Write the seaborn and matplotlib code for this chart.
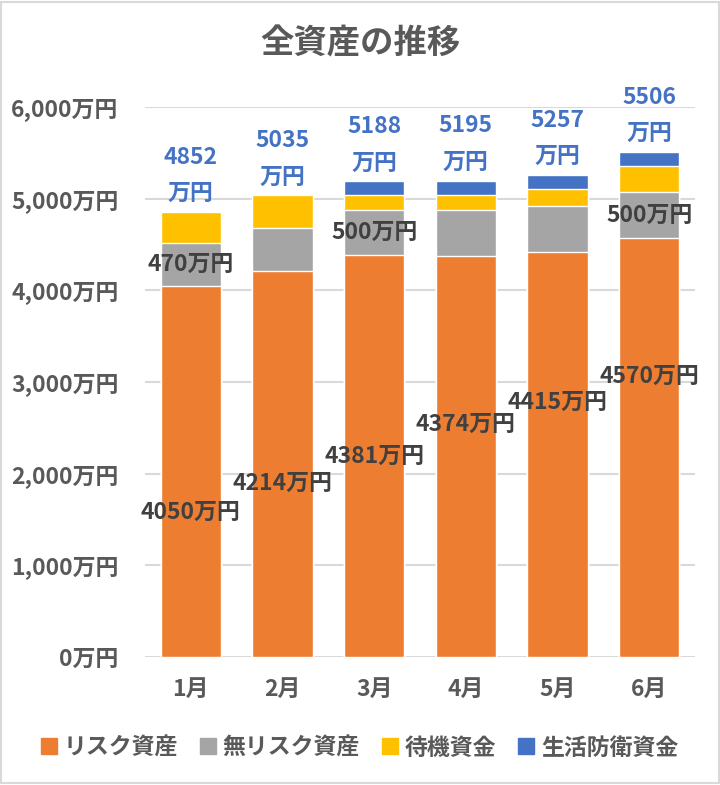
import matplotlib
matplotlib.use("Agg")
import matplotlib.pyplot as plt
from matplotlib.lines import Line2D
from matplotlib.patches import Rectangle
import numpy as np
import pandas as pd
import seaborn as sns

months = ["1月", "2月", "3月", "4月", "5月", "6月"]
risk = [4050, 4214, 4381, 4374, 4415, 4570]
no_risk = [470, 470, 500, 500, 500, 500]
standby = [332, 351, 157, 171, 192, 286]
defense = [0, 0, 150, 150, 150, 150]
series_names = ["リスク資産", "無リスク資産", "待機資金", "生活防衛資金"]
# gray segment labels only appear on these months
no_risk_labelled = ["1月", "3月", "6月"]

colors = ["#ED7D31", "#A5A5A5", "#FFC000", "#4472C4"]
# where the risk labels sit, as share of the orange segment (dragged in the original)
risk_label_frac = [0.39, 0.45, 0.50, 0.58, 0.63, 0.67]

sns.set_theme(style="white")
plt.rcParams["font.family"] = ["Noto Sans CJK JP", "DejaVu Sans"]

df = pd.DataFrame({"month": months, "risk": risk, "no_risk": no_risk,
                   "standby": standby, "defense": defense})
df["c1"] = df["risk"]
df["c2"] = df["c1"] + df["no_risk"]
df["c3"] = df["c2"] + df["standby"]
df["c4"] = df["c3"] + df["defense"]

fig = plt.figure(figsize=(7.2, 7.85), dpi=100)
ax = fig.add_axes([145 / 720, 128 / 785, 550 / 720, 550 / 785])

# stacked bars drawn as overlapping cumulative bars, tallest first
for col, color in zip(["c4", "c3", "c2", "c1"], colors[::-1]):
    sns.barplot(data=df, x="month", y=col, color=color, width=0.66,
                saturation=1, ax=ax, zorder=3)

ax.set_ylim(0, 6000)
ax.set_xlim(-0.5, 5.5)
ax.set_yticks(np.arange(0, 6001, 1000))
ax.set_yticklabels([f"{v:,}万円" for v in range(0, 6001, 1000)])
ax.yaxis.grid(True, color="#D9D9D9", linewidth=1.5, zorder=0)
ax.set_axisbelow(True)
for s in ax.spines.values():
    s.set_visible(False)
ax.set_xlabel("")
ax.set_ylabel("")
ax.tick_params(axis="y", length=0, pad=19, labelsize=16.5, labelcolor="#595959")
ax.tick_params(axis="x", length=0, pad=15, labelsize=16.5, labelcolor="#595959")
for lab in ax.get_xticklabels() + ax.get_yticklabels():
    lab.set_fontweight("bold")

# data labels
for i, m in enumerate(months):
    ax.text(i, df["risk"][i] * risk_label_frac[i], f"{risk[i]}万円",
            ha="center", va="center", fontsize=16.5, fontweight="bold",
            color="#404040", zorder=5)
    if m in no_risk_labelled:
        ax.text(i, df["c1"][i] + no_risk[i] / 2, f"{no_risk[i]}万円",
                ha="center", va="center", fontsize=16.5, fontweight="bold",
                color="#404040", zorder=5)
    ax.annotate(f"{df['c4'][i]}\n万円", xy=(i, df["c4"][i]), xytext=(0, 5),
                textcoords="offset points", ha="center", va="bottom",
                fontsize=16.5, fontweight="bold", color="#4472C4",
                linespacing=1.75, annotation_clip=False, zorder=5)

fig.text(0.5, 1 - 44 / 785, "全資産の推移", ha="center", va="center",
         fontsize=24, fontweight="bold", color="#595959")

handles = [Line2D([], [], marker="s", linestyle="none", markersize=11,
                  markerfacecolor=c, markeredgecolor=c) for c in colors]
fig.legend(handles, series_names, loc="center", bbox_to_anchor=(0.5, 1 - 748 / 785),
           ncol=4, frameon=False, handlelength=0.6, handletextpad=0.35,
           columnspacing=1.0, prop={"size": 16.5, "weight": "bold"},
           labelcolor="#595959")

fig.patches.append(Rectangle((0.002, 0.002), 0.996, 0.996, transform=fig.transFigure,
                             fill=False, edgecolor="#D9D9D9", linewidth=1.5))

fig.savefig("out.png", dpi=100)
